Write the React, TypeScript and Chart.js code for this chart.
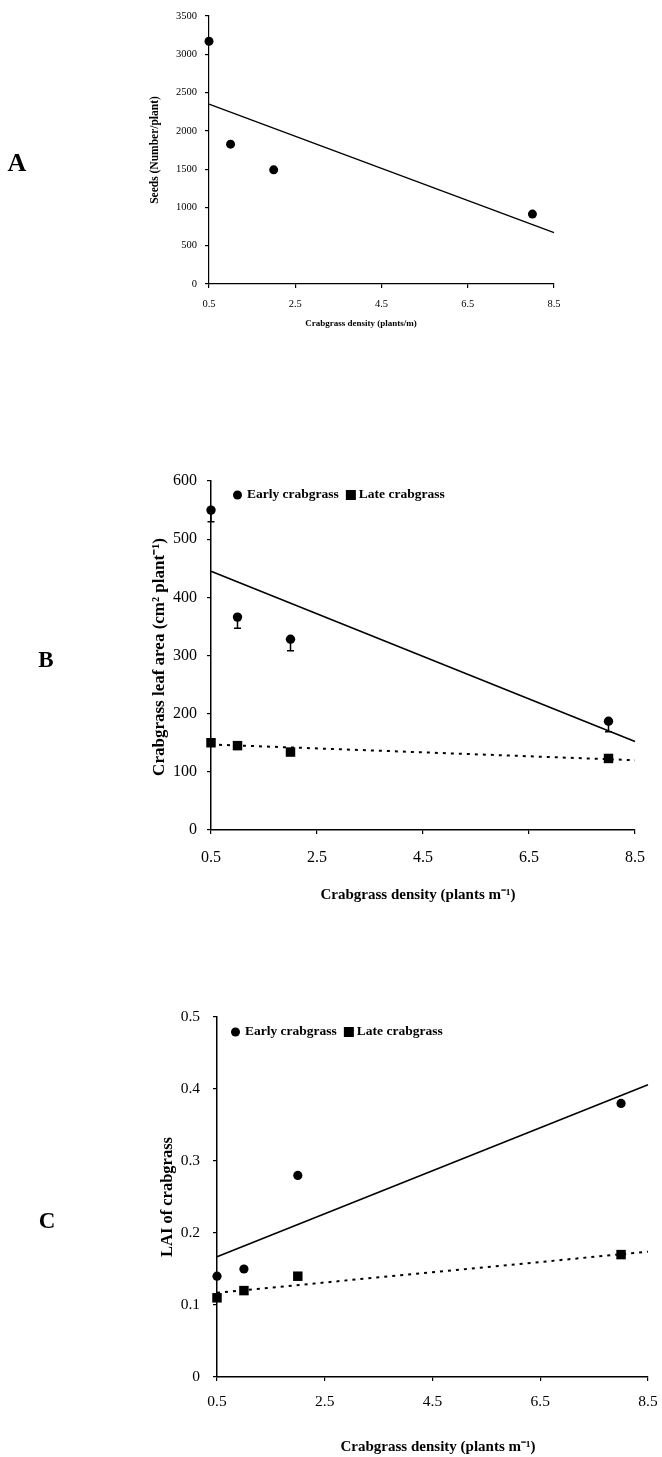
import React, { useEffect, useRef } from 'react';
import { Chart, registerables } from 'chart.js';

Chart.register(...registerables);

const SERIF = "'Liberation Serif', 'Times New Roman', serif";

// ---------- data ----------
const densities = [0.5, 1, 2, 8];
const trendX = [0.5, 8.5];
const xTicks = [0.5, 2.5, 4.5, 6.5, 8.5];

const seedsTicks = [0, 500, 1000, 1500, 2000, 2500, 3000, 3500];
const seeds = [3170, 1826, 1491, 913];
const seedsTrend = [2350, 670];

const leafTicks = [0, 100, 200, 300, 400, 500, 600];
const leafEarly = [550, 366, 328, 187];
const leafEarlyErr = [20, 19, 20, 18];
const leafLate = [150, 145, 134, 123];
const leafEarlyTrend = [445, 152];
const leafLateTrend = [147, 120];

const laiTicks = [0, 0.1, 0.2, 0.3, 0.4, 0.5];
const laiEarly = [0.14, 0.15, 0.28, 0.38];
const laiLate = [0.11, 0.12, 0.14, 0.17];
const laiEarlyTrend = [0.167, 0.406];
const laiLateTrend = [0.117, 0.174];

const legendLabels = ['Early crabgrass', 'Late crabgrass'];

// ---------- helpers ----------
const pts = (xs: number[], ys: number[]) => xs.map((x, i) => ({ x, y: ys[i] }));

type Spec = {
  height: number;
  area: { left: number; right: number; top: number; bottom: number };
  yMin: number;
  yMax: number;
  yTicks: number[];
  tickSize: number;
  xPad: number;
  yPad: number;
  datasets: any[];
  letter: { text: string; x: number; y: number; size: number };
  xTitle: { text: string; x: number; y: number; size: number };
  yTitle: { text: string; x: number; y: number; size: number };
  legend?: { x: number; y: number };
  errors?: { xs: number[]; ys: number[]; errs: number[] };
  axisWidth: number;
};

function makeDecor(spec: Spec) {
  return {
    id: 'decor',
    afterDatasetsDraw(chart: any) {
      const ctx = chart.ctx;
      if (spec.errors) {
        const xs = chart.scales.x;
        const ys = chart.scales.y;
        ctx.save();
        ctx.strokeStyle = '#000';
        ctx.lineWidth = 1.5;
        spec.errors.xs.forEach((xv, i) => {
          const px = xs.getPixelForValue(xv);
          const y0 = ys.getPixelForValue(spec.errors!.ys[i]);
          const y1 = ys.getPixelForValue(spec.errors!.ys[i] - spec.errors!.errs[i]);
          ctx.beginPath();
          ctx.moveTo(px, y0);
          ctx.lineTo(px, y1);
          ctx.moveTo(px - 3.5, y1);
          ctx.lineTo(px + 3.5, y1);
          ctx.stroke();
        });
        ctx.restore();
      }
    },
    afterDraw(chart: any) {
      const ctx = chart.ctx;
      ctx.save();
      ctx.fillStyle = '#000';
      // panel letter
      ctx.font = `bold ${spec.letter.size}px ${SERIF}`;
      ctx.textAlign = 'center';
      ctx.textBaseline = 'alphabetic';
      ctx.fillText(spec.letter.text, spec.letter.x, spec.letter.y);
      // x title
      ctx.font = `bold ${spec.xTitle.size}px ${SERIF}`;
      ctx.textBaseline = 'middle';
      ctx.fillText(spec.xTitle.text, spec.xTitle.x, spec.xTitle.y);
      // y title
      ctx.save();
      ctx.translate(spec.yTitle.x, spec.yTitle.y);
      ctx.rotate(-Math.PI / 2);
      ctx.font = `bold ${spec.yTitle.size}px ${SERIF}`;
      ctx.fillText(spec.yTitle.text, 0, 0);
      ctx.restore();
      // legend
      if (spec.legend) {
        const { x, y } = spec.legend;
        ctx.font = `bold 13.5px ${SERIF}`;
        ctx.textAlign = 'left';
        ctx.textBaseline = 'middle';
        let cx = x;
        ctx.beginPath();
        ctx.arc(cx + 4.5, y, 4.5, 0, Math.PI * 2);
        ctx.fill();
        cx += 9 + 5;
        ctx.fillText(legendLabels[0], cx, y);
        cx += ctx.measureText(legendLabels[0]).width + 7;
        ctx.fillRect(cx, y - 5, 10, 10);
        cx += 10 + 3;
        ctx.fillText(legendLabels[1], cx, y);
      }
      ctx.restore();
    },
  };
}

function makeConfig(spec: Spec): any {
  const tickFont = { family: SERIF, size: spec.tickSize };
  const grid = {
    display: true,
    drawOnChartArea: false,
    drawTicks: true,
    tickLength: 4,
    color: '#000',
    lineWidth: 1.2,
  };
  const border = { display: true, color: '#000', width: spec.axisWidth };
  return {
    type: 'scatter',
    data: { datasets: spec.datasets },
    options: {
      animation: false,
      responsive: false,
      layout: {
        padding: { left: 0, top: spec.area.top, right: 662 - spec.area.right, bottom: 0 },
      },
      plugins: { legend: { display: false }, tooltip: { enabled: false } },
      scales: {
        x: {
          type: 'linear',
          min: 0.5,
          max: 8.5,
          afterBuildTicks: (s: any) => {
            s.ticks = xTicks.map((v) => ({ value: v }));
          },
          afterFit: (s: any) => {
            s.height = spec.height - spec.area.bottom;
            s.paddingLeft = 0;
            s.paddingRight = 0;
          },
          ticks: {
            font: tickFont,
            color: '#000',
            padding: spec.xPad,
            autoSkip: false,
            maxRotation: 0,
            callback: (v: number) => String(v),
          },
          grid,
          border,
        },
        y: {
          type: 'linear',
          min: spec.yMin,
          max: spec.yMax,
          afterBuildTicks: (s: any) => {
            s.ticks = spec.yTicks.map((v) => ({ value: v }));
          },
          afterFit: (s: any) => {
            s.width = spec.area.left;
            s.paddingTop = 0;
            s.paddingBottom = 0;
          },
          ticks: {
            font: tickFont,
            color: '#000',
            padding: spec.yPad,
            autoSkip: false,
            callback: (v: number) => String(v),
          },
          grid,
          border,
        },
      },
    },
    plugins: [makeDecor(spec)],
  };
}

const circleSet = (data: any[], r = 4.6) => ({
  data,
  showLine: false,
  pointStyle: 'circle',
  pointRadius: r,
  backgroundColor: '#000',
  borderColor: '#000',
  borderWidth: 0,
  clip: false,
});
const squareSet = (data: any[]) => ({
  data,
  showLine: false,
  pointStyle: 'rect',
  pointRadius: 6.7,
  backgroundColor: '#000',
  borderColor: '#000',
  borderWidth: 0,
  clip: false,
});
const solidLine = (data: any[], w = 1.5) => ({
  data,
  showLine: true,
  pointRadius: 0,
  borderColor: '#000',
  borderWidth: w,
  backgroundColor: '#000',
  clip: false,
});
const dottedLine = (data: any[]) => ({
  data,
  showLine: true,
  pointRadius: 0,
  borderColor: '#000',
  borderWidth: 2,
  borderDash: [3, 5],
  backgroundColor: '#000',
  clip: false,
});

const specA: Spec = {
  height: 340,
  area: { left: 209, right: 554, top: 16, bottom: 284 },
  yMin: 0,
  yMax: 3500,
  yTicks: seedsTicks,
  tickSize: 10.5,
  xPad: 10,
  yPad: 8,
  axisWidth: 1.2,
  datasets: [circleSet(pts(densities, seeds), 4.5), solidLine(pts(trendX, seedsTrend), 1.3)],
  letter: { text: 'A', x: 17, y: 171, size: 26 },
  xTitle: { text: 'Crabgrass density (plants/m)', x: 361, y: 324, size: 9 },
  yTitle: { text: 'Seeds (Number/plant)', x: 155, y: 150, size: 11.5 },
};

const specB: Spec = {
  height: 470,
  area: { left: 211, right: 635, top: 41, bottom: 390 },
  yMin: 0,
  yMax: 600,
  yTicks: leafTicks,
  tickSize: 16,
  xPad: 14,
  yPad: 10,
  axisWidth: 1.5,
  datasets: [
    circleSet(pts(densities, leafEarly), 4.7),
    squareSet(pts(densities, leafLate)),
    solidLine(pts(trendX, leafEarlyTrend), 1.6),
    dottedLine(pts(trendX, leafLateTrend)),
  ],
  errors: { xs: densities, ys: leafEarly, errs: leafEarlyErr },
  legend: { x: 233, y: 55 },
  letter: { text: 'B', x: 46, y: 227, size: 23 },
  xTitle: { text: 'Crabgrass density (plants m\u207B\u00B9)', x: 418, y: 455, size: 15 },
  yTitle: { text: 'Crabgrass leaf area (cm\u00B2 plant\u207B\u00B9)', x: 160, y: 217, size: 17 },
};

const specC: Spec = {
  height: 497,
  area: { left: 217, right: 648, top: 57, bottom: 417 },
  yMin: 0,
  yMax: 0.5,
  yTicks: laiTicks,
  tickSize: 15.5,
  xPad: 12,
  yPad: 13,
  axisWidth: 1.5,
  datasets: [
    circleSet(pts(densities, laiEarly), 4.6),
    squareSet(pts(densities, laiLate)),
    solidLine(pts(trendX, laiEarlyTrend), 1.6),
    dottedLine(pts(trendX, laiLateTrend)),
  ],
  legend: { x: 231, y: 72 },
  letter: { text: 'C', x: 47, y: 268, size: 23 },
  xTitle: { text: 'Crabgrass density (plants m\u207B\u00B9)', x: 438, y: 487, size: 15 },
  yTitle: { text: 'LAI of crabgrass', x: 168, y: 237, size: 16.5 },
};

function Panel({ top, spec }: { top: number; spec: Spec }) {
  const ref = useRef<HTMLCanvasElement>(null);
  useEffect(() => {
    const chart = new Chart(ref.current as HTMLCanvasElement, makeConfig(spec));
    return () => chart.destroy();
  }, [spec]);
  return (
    <div style={{ position: 'absolute', left: 0, top, width: 662, height: spec.height }}>
      <canvas
        ref={ref}
        width={662}
        height={spec.height}
        style={{ width: 662, height: spec.height, display: 'block' }}
      />
    </div>
  );
}

export default function App() {
  return (
    <div style={{ position: 'absolute', left: 0, top: 0, width: 662, height: 1457, background: '#fff' }}>
      <Panel top={0} spec={specA} />
      <Panel top={440} spec={specB} />
      <Panel top={960} spec={specC} />
    </div>
  );
}
